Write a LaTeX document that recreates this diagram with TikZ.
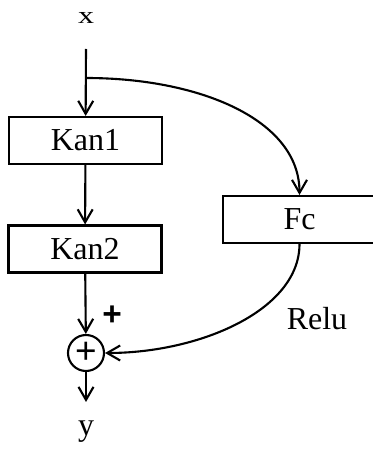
\documentclass[tikz,border=0pt]{standalone}
\usepackage{fontspec}
\setmainfont{Liberation Serif}
\newfontfamily\plusfont{Liberation Sans}
\usetikzlibrary{arrows.meta,positioning}
\tikzset{
  blk/.style={draw,line width=1.2pt,minimum width=3.06cm,minimum height=0.94cm,inner sep=0pt,font=\fontsize{18.2}{20}\selectfont},
  sumnode/.style={draw,circle,line width=1.2pt,minimum size=0.72cm,inner sep=0pt,font=\plusfont\fontsize{21}{22}\selectfont},
  io/.style={font=\fontsize{18.2}{20}\selectfont},
  flow/.style={line width=1.2pt,-{Straight Barb[length=0.26cm,width=0.3cm,line width=1.2pt]}}
}
\begin{document}
\begin{tikzpicture}
  \useasboundingbox (0,0) rectangle (7.46,9);
  \node[io] (x) at (1.72,8.64) {\scalebox{1}[0.75]{x}};
  \coordinate (top) at (1.72,8.02);
  \coordinate (split) at (1.72,7.44);
  \node[blk] (kan1) at (1.71,6.19) {Kan1};
  \node[blk] (kan2) at (1.70,4.02) {Kan2};
  \node[blk] (fc) at (5.99,4.61) {Fc};
  \node[sumnode] (sum) at (1.72,1.94) {+};
  \coordinate (out) at (1.72,0.96);
  \node[io] (y) at (1.72,0.36) {y};
  \node[font=\plusfont\bfseries\fontsize{19}{20}\selectfont] (plus) at (2.24,2.69) {+};
  \node[font=\fontsize{18.2}{20}\selectfont] (relu) at (6.34,2.62) {Relu};
  \draw[flow] (top) -- (kan1);
  \draw[flow] (kan1) -- (kan2);
  \draw[flow] (kan2) -- (sum);
  \draw[flow] (sum) -- (out);
  \draw[flow] (split) .. controls (4.0,7.44) and (5.99,6.6) .. (fc.north);
  \draw[flow] (fc.south) .. controls (5.99,2.8) and (4.0,1.94) .. (sum.east);
\end{tikzpicture}
\end{document}
